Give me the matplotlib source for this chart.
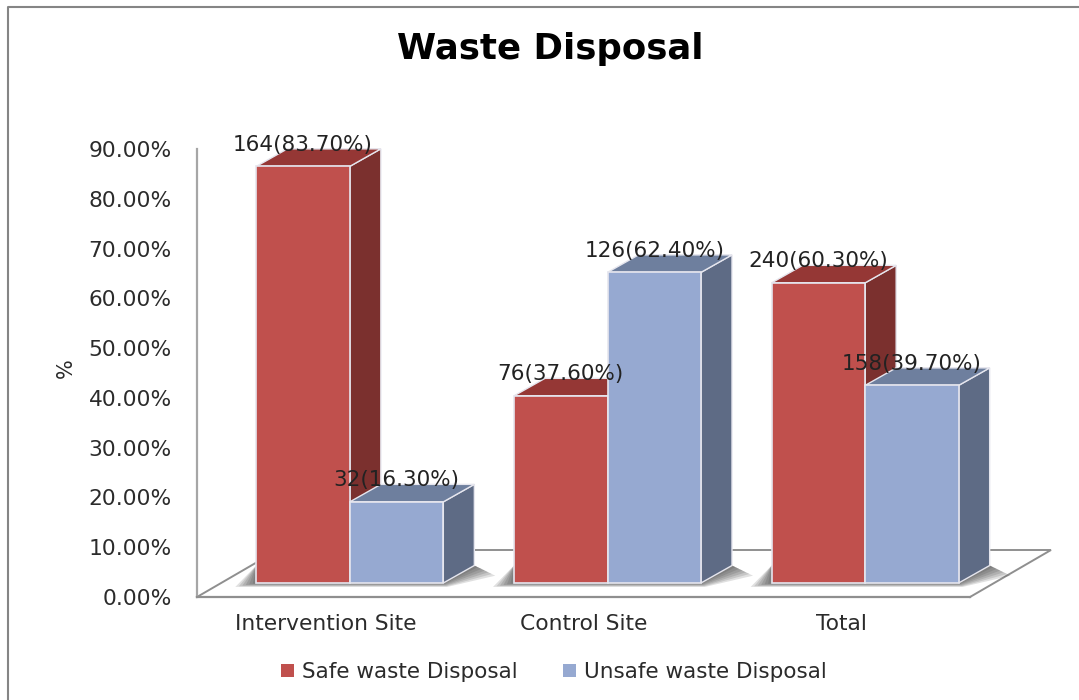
import matplotlib
matplotlib.use('Agg')
import matplotlib.pyplot as plt
from matplotlib.lines import Line2D
from matplotlib.patches import Patch, Polygon

categories = ['Intervention Site', 'Control Site', 'Total']
safe_pct = [83.70, 37.60, 60.30]
unsafe_pct = [16.30, 62.40, 39.70]
safe_count = [164, 76, 240]
unsafe_count = [32, 126, 158]
y_ticks = [0, 10, 20, 30, 40, 50, 60, 70, 80, 90]

plt.rcParams['font.family'] = ['DejaVu Sans']

W, H = 1079, 700
fig = plt.figure(figsize=(W / 100, H / 100), dpi=100)
ax = fig.add_axes([197 / W, (H - 597) / H, 773 / W, 448 / H])
ax.set_xlim(-0.5, 2.5)
ax.set_ylim(0, 90)

# pixels to data units, the 3d look is only offsets
px_x = 3 / 773
px_y = 90 / 448

bar_w = 93.5 * px_x
depth_x = 31 * px_x
depth_y = 17.5 * px_y
lift_x = 24 * px_x
lift_y = 14 * px_y
floor_x = 81 * px_x
floor_y = 47 * px_y

edge = '#e6e6ee'
red = ('#C0504D', '#953735', '#7B302E')
blue = ('#96A9D1', '#6E7F9E', '#5E6B85')
gray = '#8f8f8f'
text_col = '#2b2b2b'

# floor
ax.plot([-0.5, -0.5 + floor_x, 2.5 + floor_x, 2.5], [0, floor_y, floor_y, 0],
        color=gray, lw=1.4, clip_on=False, zorder=1, solid_joinstyle='miter')


def draw_shadow(x0, x1):
    # soft shadow on the floor, several faint layers
    y = lift_y
    for k in range(1, 7):
        s = k * 3.5 * px_x
        drop = 0.65 * k * px_y
        pts = [(x0 - s, y - drop), (x1 + s * 0.2, y - drop),
               (x1 + depth_x + s, y + depth_y * (1 - 0.06 * k) - drop),
               (x1 + depth_x, y + depth_y),
               (x0, y + depth_y),
               (x0 - s, y - drop)]
        ax.add_patch(Polygon(pts, closed=True, facecolor='#333333', edgecolor='none',
                             alpha=0.15, zorder=1.5, clip_on=False))


def draw_bar(x0, val, colors, z):
    x1 = x0 + bar_w
    y0 = lift_y
    y1 = lift_y + val
    front, top, side = colors
    ax.add_patch(Polygon([(x1, y0), (x1 + depth_x, y0 + depth_y), (x1 + depth_x, y1 + depth_y), (x1, y1)],
                         closed=True, facecolor=side, edgecolor=edge, lw=1, zorder=z, clip_on=False))
    ax.add_patch(Polygon([(x0, y1), (x1, y1), (x1 + depth_x, y1 + depth_y), (x0 + depth_x, y1 + depth_y)],
                         closed=True, facecolor=top, edgecolor=edge, lw=1, zorder=z, clip_on=False))
    ax.add_patch(Polygon([(x0, y0), (x1, y0), (x1, y1), (x0, y1)],
                         closed=True, facecolor=front, edgecolor=edge, lw=1.2, zorder=z + 0.1, clip_on=False))


for i in range(len(categories)):
    c = i + lift_x
    draw_shadow(c - bar_w, c + bar_w)
    draw_bar(c - bar_w, safe_pct[i], red, 2 + i)
    draw_bar(c, unsafe_pct[i], blue, 2.5 + i)

for i in range(len(categories)):
    c = i + lift_x
    for x, val, n in [(c - bar_w / 2, safe_pct[i], safe_count[i]), (c + bar_w / 2, unsafe_pct[i], unsafe_count[i])]:
        ax.annotate(f'{n}({val:.2f}%)', (x, lift_y + val), xytext=(0, 15.5), textcoords='offset points',
                    ha='center', va='center', fontsize=15.5, color='#222222', zorder=10, annotation_clip=False)

ax.set_yticks(y_ticks)
ax.set_yticklabels([f'{v:.2f}%' for v in y_ticks], fontsize=15.7, color=text_col)
ax.set_xticks(range(len(categories)))
ax.set_xticklabels(categories, fontsize=15.7, color=text_col)
ax.tick_params(axis='y', length=0, pad=18)
ax.tick_params(axis='x', length=0, pad=12)
for s in ['top', 'right']:
    ax.spines[s].set_visible(False)
ax.spines['left'].set_color('#a6a6a6')
ax.spines['left'].set_linewidth(1.6)
ax.spines['bottom'].set_color(gray)
ax.spines['bottom'].set_linewidth(1.6)
ax.patch.set_alpha(0)

ax.set_ylabel('%', fontsize=15, color=text_col, va='center')
ax.yaxis.set_label_coords((66 - 197) / 773, (597 - 368) / 448)

fig.text(550 / W, 1 - 49 / H, 'Waste Disposal', fontsize=25.6, fontweight='bold',
         color='black', ha='center', va='center')

handles = [Patch(facecolor=red[0], label='Safe waste Disposal'),
           Patch(facecolor=blue[0], label='Unsafe waste Disposal')]
fig.legend(handles=handles, loc='center', bbox_to_anchor=(554 / W, 1 - 672 / H), ncol=2, frameon=False,
           fontsize=15.5, labelcolor=text_col, handlelength=0.6, handleheight=0.6,
           handletextpad=0.37, columnspacing=2.1)

# chart border, only left and top are in the frame
fig.add_artist(Line2D([7.5 / W, 7.5 / W, 1], [0, 1 - 6.5 / H, 1 - 6.5 / H],
                      color='#858585', lw=1.5, transform=fig.transFigure))

fig.savefig('out.png', dpi=100)
